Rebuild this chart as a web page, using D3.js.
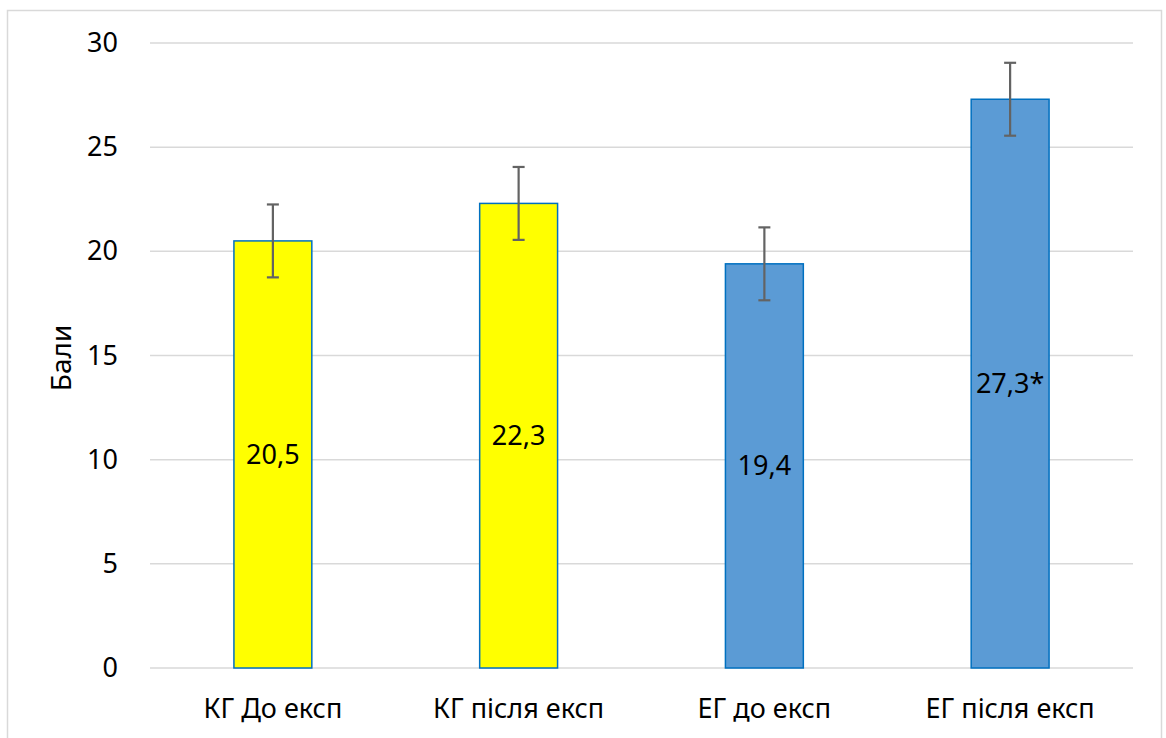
<!DOCTYPE html>
<html>
<head>
<meta charset="utf-8">
<script src="https://cdn.jsdelivr.net/npm/d3@7"></script>
<style>
  body { margin: 0; background: #fff; }
  text { font-family: "Noto Sans", "Open Sans", sans-serif; }
</style>
</head>
<body>
<div id="chart"></div>
<script>
// data
var categories = ["КГ До експ", "КГ після експ", "ЕГ до експ", "ЕГ після експ"];
var values = [20.5, 22.3, 19.4, 27.3];
var errors = [1.75, 1.75, 1.75, 1.75];
var labels = ["20,5", "22,3", "19,4", "27,3*"];
var groups = ["kg", "kg", "eg", "eg"];
var yTicks = [0, 5, 10, 15, 20, 25, 30];

var width = 1166, height = 738;
var margin = {top: 43, right: 33, bottom: 70, left: 150};

var svg = d3.select("#chart").append("svg")
    .attr("width", width)
    .attr("height", height);

// outer chart frame
svg.append("rect")
    .attr("x", 7.5).attr("y", 10.5)
    .attr("width", 1154).attr("height", 740)
    .attr("fill", "none")
    .attr("stroke", "#d9d9d9")
    .attr("stroke-width", 1.5);

var x = d3.scaleBand()
    .domain(categories)
    .range([margin.left, width - margin.right])
    .paddingInner(0.683)
    .paddingOuter(0.3415);

var y = d3.scaleLinear()
    .domain([0, 30])
    .range([height - margin.bottom, margin.top]);

// gridlines
svg.append("g").selectAll("line")
    .data(yTicks)
    .enter().append("line")
    .attr("x1", margin.left)
    .attr("x2", width - margin.right)
    .attr("y1", function (d) { return y(d); })
    .attr("y2", function (d) { return y(d); })
    .attr("stroke", "#d9d9d9")
    .attr("stroke-width", 1.5);

// y axis labels
var yAxis = d3.axisLeft(y).tickValues(yTicks).tickSize(0).tickPadding(32);
var gy = svg.append("g")
    .attr("transform", "translate(" + margin.left + ",0)")
    .call(yAxis);
gy.select(".domain").remove();
gy.selectAll("text")
    .style("font-size", "27px")
    .attr("fill", "#000");

// x axis labels
var xAxis = d3.axisBottom(x).tickSize(0).tickPadding(31);
var gx = svg.append("g")
    .attr("transform", "translate(0," + y(0) + ")")
    .call(xAxis);
gx.select(".domain").remove();
gx.selectAll("text")
    .style("font-size", "27px")
    .attr("fill", "#000");

// y title
svg.append("text")
    .attr("transform", "translate(71,358) rotate(-90)")
    .attr("text-anchor", "middle")
    .style("font-size", "28px")
    .attr("fill", "#000")
    .text("Бали");

var fills = {kg: "#ffff00", eg: "#5b9bd5"};

// bars
svg.append("g").selectAll("rect")
    .data(values)
    .enter().append("rect")
    .attr("x", function (d, i) { return x(categories[i]); })
    .attr("y", function (d) { return y(d); })
    .attr("width", x.bandwidth())
    .attr("height", function (d) { return y(0) - y(d); })
    .attr("fill", function (d, i) { return fills[groups[i]]; })
    .attr("stroke", "#0070c0")
    .attr("stroke-width", 1.5);

// error bars
var eb = svg.append("g").selectAll("g")
    .data(values)
    .enter().append("g")
    .attr("stroke", "#636363")
    .attr("stroke-width", 2.2);
eb.append("line")
    .attr("x1", function (d, i) { return x(categories[i]) + x.bandwidth() / 2; })
    .attr("x2", function (d, i) { return x(categories[i]) + x.bandwidth() / 2; })
    .attr("y1", function (d, i) { return y(d + errors[i]); })
    .attr("y2", function (d, i) { return y(d - errors[i]); });
[1, -1].forEach(function (s) {
  eb.append("line")
    .attr("x1", function (d, i) { return x(categories[i]) + x.bandwidth() / 2 - 6; })
    .attr("x2", function (d, i) { return x(categories[i]) + x.bandwidth() / 2 + 6; })
    .attr("y1", function (d, i) { return y(d + s * errors[i]); })
    .attr("y2", function (d, i) { return y(d + s * errors[i]); });
});

// value labels, centred in bars
svg.append("g").selectAll("text")
    .data(values)
    .enter().append("text")
    .attr("x", function (d, i) { return x(categories[i]) + x.bandwidth() / 2; })
    .attr("y", function (d) { return (y(d) + y(0)) / 2; })
    .attr("dy", "0.35em")
    .attr("text-anchor", "middle")
    .style("font-size", "27px")
    .attr("fill", "#000")
    .text(function (d, i) { return labels[i]; });
</script>
</body>
</html>
